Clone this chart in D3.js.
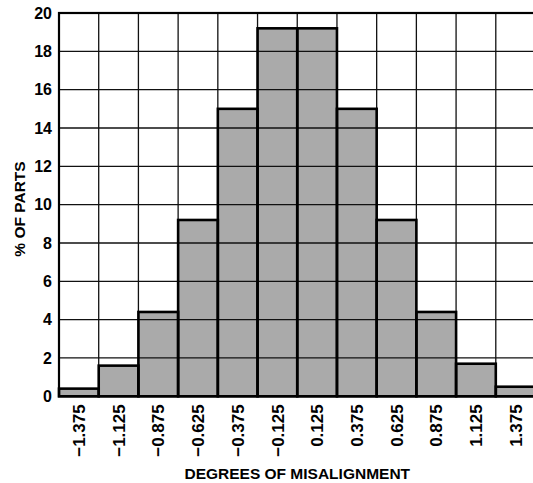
<!DOCTYPE html>
<html>
<head>
<meta charset="utf-8">
<script src="https://cdn.jsdelivr.net/npm/d3@7"></script>
<style>
  body { margin: 0; background: #fff; }
  text { font-family: "Liberation Sans", Arial, Helvetica, sans-serif; font-weight: bold; fill: #000; }
</style>
</head>
<body>
<div id="chart"></div>
<script>
// Bin centres (degrees) and % of parts in each bin
const binCenters = [-1.375, -1.125, -0.875, -0.625, -0.375, -0.125, 0.125, 0.375, 0.625, 0.875, 1.125, 1.375];
const binLabels = ["\u22121.375", "\u22121.125", "\u22120.875", "\u22120.625", "\u22120.375", "\u22120.125",
                   "0.125", "0.375", "0.625", "0.875", "1.125", "1.375"];
const percentParts = [0.4, 1.6, 4.4, 9.2, 15, 19.2, 19.2, 15, 9.2, 4.4, 1.7, 0.5];
const yTicks = [0, 2, 4, 6, 8, 10, 12, 14, 16, 18, 20];

const width = 533, height = 483;
const plot = {left: 59, right: 535.5, top: 13, bottom: 396.3};

const svg = d3.select("#chart")
              .append("svg")
              .attr("width", width)
              .attr("height", height);

// Band scale for the bins, linear for the percentages
const xScale = d3.scaleBand()
                 .domain(binCenters)
                 .range([plot.left, plot.right])
                 .padding(0);

const yScale = d3.scaleLinear()
                 .domain([0, 20])
                 .range([plot.bottom, plot.top]);

// Bars
svg.append("g")
   .selectAll("rect")
   .data(binCenters)
   .enter()
   .append("rect")
     .attr("x", d => xScale(d))
     .attr("y", (d, i) => yScale(percentParts[i]))
     .attr("width", xScale.bandwidth())
     .attr("height", (d, i) => yScale(0) - yScale(percentParts[i]))
     .attr("fill", "#aaaaaa");

// Grid lines sit on top of the bars
const grid = svg.append("g").attr("stroke", "#111").attr("stroke-width", 1.3);
grid.selectAll("line.h")
    .data(yTicks.filter(t => t > 0 && t < 20))
    .enter()
    .append("line")
      .attr("class", "h")
      .attr("x1", plot.left)
      .attr("x2", plot.right)
      .attr("y1", d => yScale(d))
      .attr("y2", d => yScale(d));
grid.selectAll("line.v")
    .data(binCenters.slice(1))
    .enter()
    .append("line")
      .attr("class", "v")
      .attr("x1", d => xScale(d))
      .attr("x2", d => xScale(d))
      .attr("y1", plot.top)
      .attr("y2", plot.bottom);

// Thick outline of the histogram bars
svg.append("g")
   .selectAll("rect")
   .data(binCenters)
   .enter()
   .append("rect")
     .attr("x", d => xScale(d))
     .attr("y", (d, i) => yScale(percentParts[i]))
     .attr("width", xScale.bandwidth())
     .attr("height", (d, i) => yScale(0) - yScale(percentParts[i]))
     .attr("fill", "none")
     .attr("stroke", "#000")
     .attr("stroke-width", 2.6);

// Plot frame
svg.append("rect")
   .attr("x", plot.left)
   .attr("y", plot.top)
   .attr("width", plot.right - plot.left)
   .attr("height", plot.bottom - plot.top)
   .attr("fill", "none")
   .attr("stroke", "#000")
   .attr("stroke-width", 2.2);

// Y axis tick labels
const yAxis = svg.append("g")
                 .attr("transform", `translate(${plot.left},0)`)
                 .call(d3.axisLeft(yScale).tickValues(yTicks).tickSize(0).tickPadding(7));
yAxis.select(".domain").remove();
yAxis.selectAll("text")
     .style("font-size", "16px")
     .style("font-family", "'Liberation Sans', Arial, sans-serif")
     .style("font-weight", "bold");

// X axis tick labels, rotated
const xAxis = svg.append("g")
                 .attr("transform", `translate(0,${plot.bottom})`)
                 .call(d3.axisBottom(xScale).tickSize(0).tickFormat((d, i) => binLabels[i]));
xAxis.select(".domain").remove();
xAxis.selectAll("text")
     .attr("transform", "rotate(-90)")
     .attr("text-anchor", "end")
     .attr("x", -8)
     .attr("y", 0)
     .attr("dy", "0.36em")
     .style("font-size", "17px")
     .style("font-family", "'Liberation Sans', Arial, sans-serif")
     .style("font-weight", "bold");

// Axis titles
svg.append("text")
   .attr("x", (plot.left + plot.right) / 2)
   .attr("y", 479)
   .attr("text-anchor", "middle")
   .style("font-size", "15.5px")
   .text("DEGREES OF MISALIGNMENT");

svg.append("text")
   .attr("transform", "rotate(-90)")
   .attr("x", -209)
   .attr("y", 25)
   .attr("text-anchor", "middle")
   .style("font-size", "15.5px")
   .text("% OF PARTS");
</script>
</body>
</html>
